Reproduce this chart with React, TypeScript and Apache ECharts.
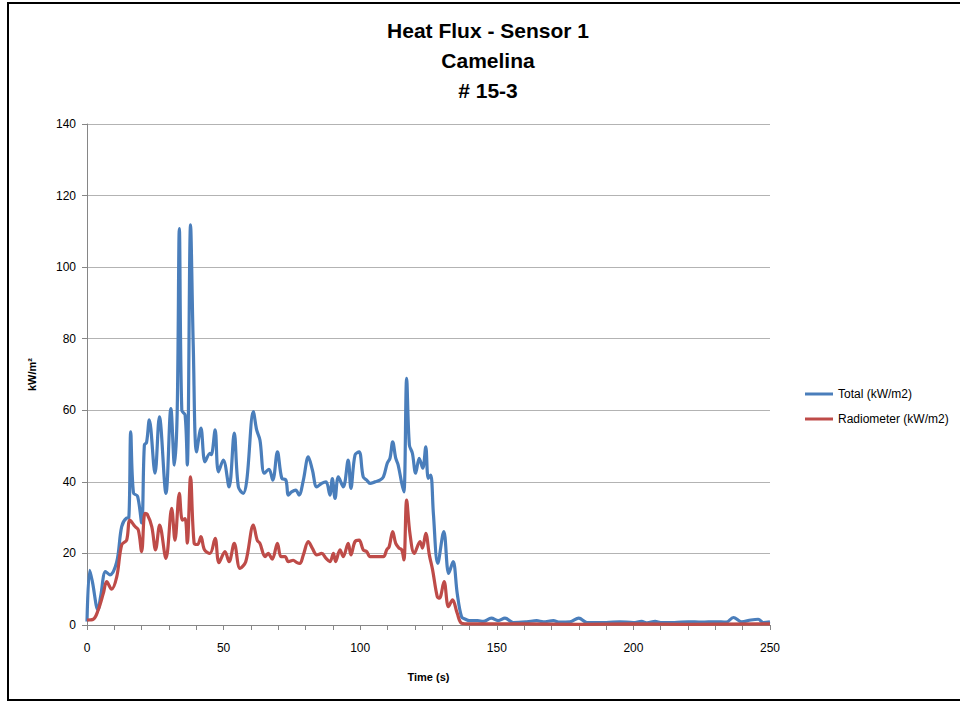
import React, { useEffect, useRef } from "react";
import * as echarts from "echarts";

const titleLines = ["Heat Flux - Sensor 1", "Camelina", "# 15-3"];
const seriesNames = ["Total (kW/m2)", "Radiometer (kW/m2)"];
const xTicks = [0, 50, 100, 150, 200, 250];
const yTicks = [0, 20, 40, 60, 80, 100, 120, 140];

const totalTime = [0, 1, 2, 4, 5, 6.8, 8.4, 10.9, 12.7, 14.5, 15.3, 16, 17, 18.5, 20, 21, 21.8, 22.8, 24.9, 26.5, 28.9, 30.7, 32, 33, 33.8, 34.7, 35.9, 36.7, 37.9, 38.9, 40.1, 41.7, 43.2, 45, 45.5, 46.9, 48.1, 49.9, 52, 53.9, 55.4, 57.2, 58.5, 60.9, 62.1, 63.3, 64.9, 66.6, 68, 69.7, 71.3, 72.8, 73.7, 74.9, 76.4, 77.6, 79.2, 81, 82.5, 84.1, 85.9, 87.5, 88.9, 89.8, 90.8, 92, 93.8, 95.6, 96.6, 98.1, 99.6, 101.1, 102.4, 103.6, 105.4, 107.2, 108.5, 109.9, 110.9, 111.9, 113, 113.9, 115.2, 116, 117, 118, 119.1, 120.3, 121.6, 122.9, 124, 124.9, 125.8, 126.8, 128.4, 130.6, 132.4, 134, 135.5, 137.1, 138.5, 140, 143, 145, 148, 150.5, 153, 156, 161, 164.6, 167, 170.7, 173, 176.8, 180, 183, 190, 195, 200, 203, 205, 208, 210, 215, 220, 225, 230, 234, 236.6, 239.6, 243, 245.7, 247.5, 250];
const totalValue = [1, 15.3, 12, 4.2, 8, 14.9, 14, 17.7, 27.5, 29.9, 30, 54, 36.9, 36, 28.5, 50.3, 51, 57.3, 42.4, 58.2, 36.8, 60.5, 44.7, 59, 110.8, 60, 58.7, 44.7, 111.8, 77.8, 48.4, 55, 45.6, 48, 47.6, 54.5, 42.8, 46.1, 38.6, 53.6, 38.6, 36.8, 40.5, 59.6, 54.5, 51.7, 42.4, 43.5, 40.5, 48.4, 41, 40.5, 36.3, 37.2, 37.7, 36.3, 40.5, 47, 43.3, 38.6, 39.6, 40, 36.3, 40.9, 35.4, 41.4, 38.6, 46.1, 38.2, 47.5, 48.4, 41.4, 40.5, 39.6, 40, 40.5, 41.4, 45.2, 46.6, 51.2, 46.6, 44.7, 39.6, 37.2, 68.9, 50.3, 48, 42.4, 46.6, 43.8, 49.8, 41, 41.9, 31, 17.2, 26.1, 14.4, 17.7, 8.9, 2.3, 1.6, 1.2, 1.2, 1, 1.9, 1.2, 1.9, 0.7, 0.9, 1.2, 0.9, 1.2, 0.8, 0.9, 1.9, 0.7, 0.7, 0.9, 0.7, 1, 0.6, 1, 0.7, 0.7, 0.9, 0.8, 0.9, 0.8, 2.1, 0.9, 1.4, 1.6, 0.7, 0.9];

const radTime = [0, 2.3, 4.1, 6, 7.2, 9, 10.9, 12.7, 14.5, 15.7, 17.6, 18.8, 20, 21.2, 22, 23.7, 25.1, 26.6, 28.9, 31, 32.2, 33.8, 34.9, 35.9, 36.7, 37.9, 39.2, 40.5, 41.7, 43, 45, 46.9, 48.3, 50.5, 52, 53.9, 56, 58.1, 60.9, 62.3, 63.3, 65.2, 66.3, 67.8, 69.7, 71, 72.5, 73.7, 75.5, 76.7, 77.9, 79.2, 81, 82.5, 84.1, 85.9, 87.5, 88.9, 90.2, 91, 92.6, 93.8, 95.6, 96.6, 98.1, 99.6, 101.1, 102.4, 103.6, 106, 108.5, 109.7, 110.6, 111.9, 113, 114.2, 115.2, 116, 117, 118.2, 119.8, 121.9, 122.8, 124, 125.3, 126.5, 128.2, 129, 130.7, 132.3, 133.8, 135.5, 137.1, 140, 160, 180, 200, 220, 250];
const radValue = [1.4, 1.6, 4.2, 8.9, 12.1, 10, 13.5, 22.4, 23.7, 29.3, 27.5, 26.5, 20.5, 31.2, 31, 27.5, 21, 27.9, 18.6, 32.6, 23.7, 36.8, 29.3, 29.7, 22.9, 41.4, 22.9, 22.5, 24.7, 21, 20, 24.2, 17.4, 20.5, 17.7, 22.8, 15.8, 17.7, 27.9, 23.7, 22.8, 19.1, 20, 18.4, 22.8, 19.1, 19.1, 17.7, 18.1, 17.5, 17.2, 19.6, 23.3, 21.4, 19.6, 20, 18.6, 17.7, 20, 17.7, 21, 19.1, 22.8, 19.6, 23.3, 23.7, 21, 20.5, 19.1, 19.1, 19.1, 21, 21.9, 26.1, 22.8, 21.5, 21, 18.2, 34.9, 25.6, 20, 23.3, 21.5, 25.6, 19.6, 15.4, 7.9, 7.5, 12.1, 5.1, 7, 3.3, 0.5, 0.3, 0.3, 0.2, 0.3, 0.2, 0.3];

const zip = (t: number[], v: number[]) => t.map((x, i) => [x, v[i]]);

export default function App() {
  const ref = useRef<HTMLDivElement>(null);
  useEffect(() => {
    if (!ref.current) return;
    const chart = echarts.init(ref.current, undefined, { renderer: "svg" });
    const font = "'Liberation Sans', Arial, sans-serif";
    chart.setOption({
      animation: false,
      backgroundColor: "#ffffff",
      textStyle: { fontFamily: font },
      graphic: [
        {
          type: "rect",
          shape: { x: 8, y: 3, width: 960, height: 697 },
          style: { fill: "none", stroke: "#000000", lineWidth: 2 },
          silent: true,
        },
        ...titleLines.map((t, i) => ({
          type: "text",
          x: 488,
          y: 30 + i * 30,
          style: {
            text: t,
            fill: "#000000",
            font: `bold 21px ${font}`,
            textAlign: "center",
            textVerticalAlign: "middle",
          },
        })),
      ],
      legend: {
        orient: "vertical",
        left: 800,
        top: 383,
        itemWidth: 28,
        itemHeight: 3,
        itemGap: 13,
        icon: "rect",
        textStyle: { fontSize: 12, color: "#000", fontFamily: font },
        data: seriesNames,
      },
      grid: { left: 87, right: 190, top: 124, bottom: 77 },
      xAxis: {
        type: "value",
        min: 0,
        max: 250,
        interval: 10,
        name: "Time (s)",
        nameLocation: "middle",
        nameGap: 46,
        nameTextStyle: { fontWeight: "bold", fontSize: 11, color: "#000" },
        axisLine: { lineStyle: { color: "#868686", width: 1 } },
        axisTick: { show: true, length: 5, lineStyle: { color: "#868686" } },
        axisLabel: {
          color: "#000",
          fontSize: 12,
          margin: 17,
          formatter: (v: number) => (xTicks.includes(v) ? String(v) : ""),
        },
        splitLine: { show: false },
      },
      yAxis: {
        type: "value",
        min: 0,
        max: 140,
        interval: 20,
        name: "kW/m²",
        nameLocation: "middle",
        nameGap: 50,
        nameTextStyle: { fontWeight: "bold", fontSize: 11, color: "#000" },
        axisLine: { show: true, lineStyle: { color: "#868686", width: 1 } },
        axisTick: { show: true, length: 5, lineStyle: { color: "#868686" } },
        axisLabel: {
          color: "#000",
          fontSize: 12,
          margin: 11,
          formatter: (v: number) => (yTicks.includes(v) ? String(v) : ""),
        },
        splitLine: { show: true, lineStyle: { color: "#b3b3b3", width: 1 } },
      },
      series: [
        {
          name: seriesNames[0],
          type: "line",
          data: zip(totalTime, totalValue),
          smooth: 0.35,
          showSymbol: false,
          lineStyle: { color: "#4a7ebb", width: 3.2 },
          itemStyle: { color: "#4a7ebb" },
          z: 2,
        },
        {
          name: seriesNames[1],
          type: "line",
          data: zip(radTime, radValue),
          smooth: 0.35,
          showSymbol: false,
          lineStyle: { color: "#be4b48", width: 3.2 },
          itemStyle: { color: "#be4b48" },
          z: 3,
        },
      ],
    });
    return () => chart.dispose();
  }, []);
  return (
    <div
      ref={ref}
      style={{ position: "fixed", left: 0, top: 0, width: 960, height: 702 }}
    />
  );
}
